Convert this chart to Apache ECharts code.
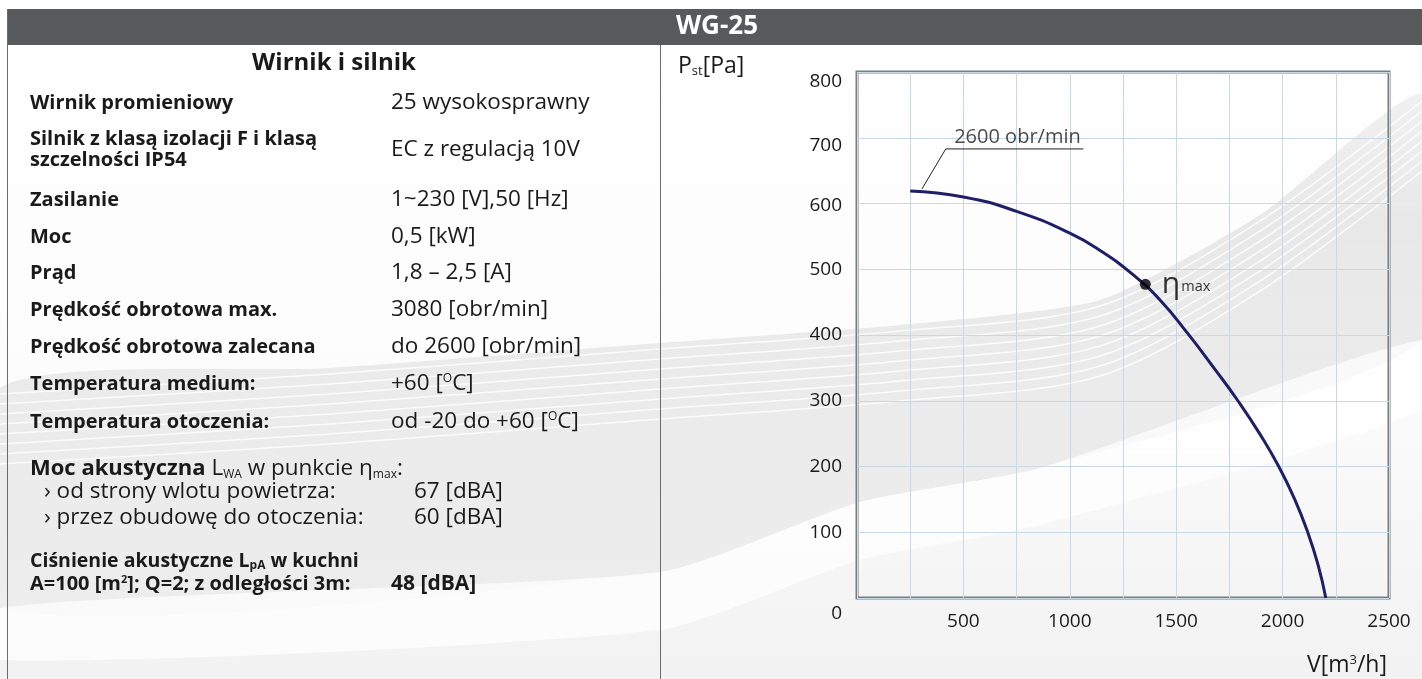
<!DOCTYPE html>
<html>
<head>
<meta charset="utf-8">
<script src="https://cdn.jsdelivr.net/npm/echarts/dist/echarts.min.js"></script>
<style>
html,body{margin:0;padding:0;background:#ffffff;}
#chart{width:1422px;height:679px;}
</style>
</head>
<body>
<div id="chart"></div>
<script>
// ---------- data ----------
const flowV     = [250, 500, 750, 1000, 1150, 1300, 1425, 1555, 1677, 1790, 1892, 1982, 2057, 2118, 2167, 2203];
const pressureP = [619, 610, 588, 555, 527, 491, 453, 402, 350, 300, 250, 200, 150, 100, 50, 0];

const xTicks = [0, 500, 1000, 1500, 2000, 2500];
const yTicks = [0, 100, 200, 300, 400, 500, 600, 700, 800];

const etaPoint = [1355, 477];
const leaderV = [305, 417, 1064];
const leaderP = [622, 683, 683];
const ratedLabel = '2600 obr/min';
const ratedLabelAt = [754, 683];

const title = 'WG-25';
const panelHeading = 'Wirnik i silnik';
const specLabels = [
  'Wirnik promieniowy',
  'Silnik z klasą izolacji F i klasą\nszczelności IP54',
  'Zasilanie',
  'Moc',
  'Prąd',
  'Prędkość obrotowa max.',
  'Prędkość obrotowa zalecana',
  'Temperatura medium:',
  'Temperatura otoczenia:'
];
const specValues = [
  '25 wysokosprawny',
  'EC z regulacją 10V',
  '1~230 [V],50 [Hz]',
  '0,5 [kW]',
  '1,8 – 2,5 [A]',
  '3080 [obr/min]',
  'do 2600 [obr/min]',
  '+60 [{sup|O}C]',
  'od -20 do +60 [{sup|O}C]'
];
const noiseLabels = ['› od strony wlotu powietrza:', '› przez obudowę do otoczenia:'];
const noiseValues = ['67 [dBA]', '60 [dBA]'];

// ---------- layout / style ----------
const FONT = "'Open Sans', 'Noto Sans', sans-serif";
const rowY = [103, 150, 200, 237, 273, 310, 347, 384, 422];
const gridStyle = '#c9d8e6';
// small vertical nudges of individual y tick labels (px, downwards), as in the reference
const yLabelNudge = {0: 16, 700: 8, 800: 10, 600: 2};

const chart = echarts.init(document.getElementById('chart'), null, {renderer: 'canvas'});

function txt(x, y, text, opts) {
  opts = opts || {};
  return {
    type: 'text', x: x, y: y, z: 10,
    style: {
      text: text,
      fill: opts.fill || '#1a1a1a',
      font: (opts.weight || 'normal') + ' ' + (opts.size || 19) + 'px ' + FONT,
      align: opts.align || 'left',
      verticalAlign: 'middle',
      lineHeight: opts.lineHeight,
      rich: opts.rich
    }
  };
}

const supRich = {
  sup: {fontSize: 12, fontFamily: FONT, verticalAlign: 'top', padding: [0, 0, 11, 0], fill: '#1a1a1a'}
};

const graphics = [];
// background (soft grey sweep with light streaks) - decoration only
const bandTop = [[0, 388], [330, 368], [660, 343], [900, 325], [1100, 300], [1260, 215], [1422, 95]];
const bandBottom = [[1422, 340], [1040, 468], [860, 502], [660, 572], [0, 608]];
graphics.push({type: 'rect', z: -20, shape: {x: 0, y: 0, width: 1422, height: 679},
  style: {fill: new echarts.graphic.LinearGradient(0, 0, 0, 1, [
    {offset: 0, color: '#ffffff'}, {offset: 0.55, color: '#fcfcfc'}, {offset: 1, color: '#f2f2f2'}])}});
graphics.push({type: 'polygon', z: -19, shape: {points: bandTop.concat(bandBottom), smooth: 0.2},
  style: {fill: new echarts.graphic.LinearGradient(0, 0, 0, 1, [
    {offset: 0, color: 'rgba(229,229,229,0.55)'}, {offset: 0.25, color: 'rgba(230,230,230,0.9)'}, {offset: 1, color: 'rgba(235,235,235,0.8)'}])}});
graphics.push({type: 'polygon', z: -18, shape: {points: [[1422, 340], [1040, 468], [860, 502], [660, 572], [0, 608], [0, 660], [660, 630], [860, 560], [1040, 525], [1422, 410]], smooth: 0.2},
  style: {fill: 'rgba(255,255,255,0.7)'}});
for (let i = 0; i < 8; i++) {
  graphics.push({type: 'polyline', z: -17, shape: {points: bandTop.map(function (p) { return [p[0], p[1] + 6 + i * 10]; }), smooth: 0.3},
    style: {stroke: 'rgba(255,255,255,0.8)', lineWidth: 1.5, fill: null}});
}
// header
graphics.push({type: 'rect', z: 5, shape: {x: 7, y: 9, width: 1415, height: 36}, style: {fill: '#58595b'}});
graphics.push(txt(717, 27, title, {fill: '#ffffff', weight: 'bold', size: 26, align: 'center'}));
// frame lines
graphics.push({type: 'line', z: 5, shape: {x1: 7.5, y1: 9, x2: 7.5, y2: 679}, style: {stroke: '#6b6b6b', lineWidth: 1}});
graphics.push({type: 'line', z: 5, shape: {x1: 660.5, y1: 45, x2: 660.5, y2: 679}, style: {stroke: '#6b6b6b', lineWidth: 1}});

// left panel
graphics.push(txt(334, 63, panelHeading, {weight: 'bold', size: 24, align: 'center'}));
specLabels.forEach(function (s, i) {
  graphics.push(txt(30, rowY[i], s, {weight: 'bold', size: 20, lineHeight: 21}));
  graphics.push(txt(391, rowY[i], specValues[i], {size: 22.5, rich: supRich}));
});
graphics.push(txt(30, 469, '{b|Moc akustyczna} L{sub|WA} w punkcie η{sub|max}:', {size: 22.5, rich: {
  b: {fontWeight: 'bold', fontSize: 22, fontFamily: FONT, fill: '#1a1a1a'},
  sub: {fontSize: 12, fontFamily: FONT, verticalAlign: 'bottom', padding: [9, 0, 0, 0], fill: '#1a1a1a'}
}}));
noiseLabels.forEach(function (s, i) {
  graphics.push(txt(44, 492 + i * 26, s, {size: 22.5}));
  graphics.push(txt(414, 492 + i * 26, noiseValues[i], {size: 22.5}));
});
graphics.push(txt(30, 561, 'Ciśnienie akustyczne L{sub|pA} w kuchni', {weight: 'bold', size: 19.5, rich: {
  sub: {fontSize: 12, fontWeight: 'bold', fontFamily: FONT, verticalAlign: 'bottom', padding: [9, 0, 0, 0], fill: '#1a1a1a'}
}}));
graphics.push(txt(30, 584, 'A=100 [m{sup|2}]; Q=2; z odległości 3m:', {weight: 'bold', size: 20, rich: {
  sup: {fontSize: 11, fontWeight: 'bold', fontFamily: FONT, verticalAlign: 'top', padding: [0, 0, 9, 0], fill: '#1a1a1a'}
}}));
graphics.push(txt(391, 584, '48 [dBA]', {weight: 'bold', size: 21}));

// axis names
graphics.push(txt(678, 66, 'P{sub|st}[Pa]', {size: 23, rich: {
  sub: {fontSize: 13, fontFamily: FONT, verticalAlign: 'bottom', padding: [10, 0, 0, 0], fill: '#1a1a1a'}
}}));
graphics.push(txt(1387, 665, 'V[m{sup|3}/h]', {size: 23, align: 'right', rich: {
  sup: {fontSize: 13, fontFamily: FONT, verticalAlign: 'top', padding: [0, 0, 10, 0], fill: '#1a1a1a'}
}}));

const yRich = {};
Object.keys(yLabelNudge).forEach(function (k) {
  yRich['n' + k] = {fontSize: 19, fontFamily: FONT, color: '#1a1a1a', padding: [yLabelNudge[k] * 2, 0, 0, 0]};
});

const option = {
  animation: false,
  backgroundColor: 'transparent',
  grid: {
    left: 857, right: 33, top: 72, bottom: 81,
    show: true, borderColor: '#7a7f7e', borderWidth: 3, backgroundColor: 'transparent',
    containLabel: false, outerBoundsMode: 'none'
  },
  xAxis: {
    type: 'value', min: 0, max: 2500, interval: 250,
    axisLine: {show: false}, axisTick: {show: false},
    splitLine: {show: true, lineStyle: {color: gridStyle, width: 1}},
    axisLabel: {
      margin: 14, color: '#1a1a1a', fontSize: 19, fontFamily: FONT, hideOverlap: false,
      formatter: function (v) { return (xTicks.indexOf(v) > 0) ? String(v) : ''; }
    }
  },
  yAxis: {
    type: 'value', min: 0, max: 800, interval: 100,
    axisLine: {show: false}, axisTick: {show: false},
    splitLine: {show: true, lineStyle: {color: gridStyle, width: 1}},
    axisLabel: {
      margin: 15, color: '#1a1a1a', fontSize: 19, fontFamily: FONT, hideOverlap: false,
      formatter: function (v) {
        if (yTicks.indexOf(v) < 0) return '';
        return yLabelNudge[v] !== undefined ? '{n' + v + '|' + v + '}' : String(v);
      },
      rich: yRich
    }
  },
  series: [
    {
      type: 'line', name: 'curve', smooth: 0.5, symbol: 'none', z: 5,
      lineStyle: {color: '#1f1f66', width: 3},
      data: flowV.map(function (v, i) { return [v, pressureP[i]]; })
    },
    {
      type: 'line', name: 'leader', symbol: 'none', z: 4,
      lineStyle: {color: '#222222', width: 1},
      data: leaderV.map(function (v, i) { return [v, leaderP[i]]; })
    },
    {
      type: 'scatter', name: 'rated', symbolSize: 0, z: 6,
      data: [ratedLabelAt],
      label: {show: true, position: 'top', distance: 2, formatter: ratedLabel,
        color: '#1a1a1a', fontSize: 20, fontFamily: FONT}
    },
    {
      type: 'scatter', name: 'eta', symbolSize: 11, z: 7,
      itemStyle: {color: '#000000'},
      data: [etaPoint],
      label: {show: true, position: 'right', distance: 11, formatter: '{e|η}{m|max}',
        rich: {
          e: {fontSize: 30, fontFamily: FONT, color: '#000000'},
          m: {fontSize: 14.5, fontFamily: FONT, color: '#000000', padding: [6, 0, 0, 1]}
        }}
    }
  ],
  graphic: graphics
};
chart.setOption(option);
</script>
</body>
</html>
